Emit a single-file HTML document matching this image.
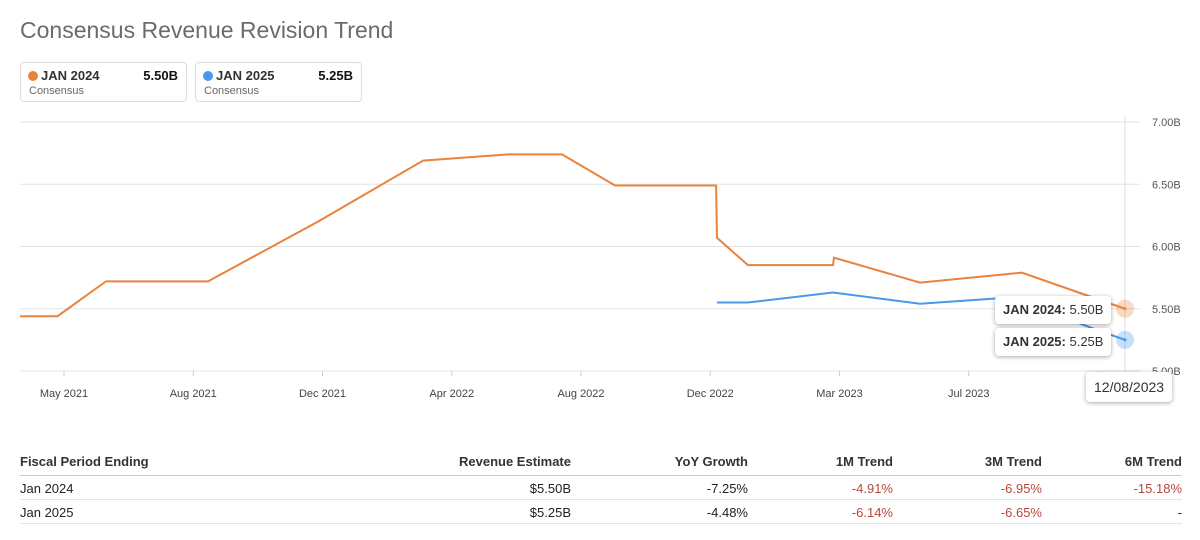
<!DOCTYPE html>
<html><head><meta charset="utf-8"><style>
body{margin:0;width:1200px;height:540px;background:#fff;font-family:"Liberation Sans",sans-serif;overflow:hidden;position:relative}
.t{position:absolute;left:20px;top:17px;font-size:23px;color:#6b6b6b}
.lg{position:absolute;top:62px;height:40px;border:1px solid #ddd;border-radius:4px;box-sizing:border-box}
.lg .d{position:absolute;left:7px;top:8px;width:10px;height:10px;border-radius:50%}
.lg .n{position:absolute;left:20px;top:5px;font-size:13px;font-weight:bold;color:#333}
.lg .v{position:absolute;right:8px;top:5px;font-size:13px;font-weight:bold;color:#111}
.lg .c{position:absolute;left:8px;top:22px;font-size:11px;color:#666}
table{position:absolute;left:20px;top:453px;width:1162px;border-collapse:collapse;font-size:13px;color:#222;table-layout:fixed}
th{font-weight:bold;text-align:right;padding:0 0 6px;height:16px;border-bottom:1px solid #ccc;color:#333}
td{text-align:right;padding:4px 0 3px;height:16px;border-bottom:1px solid #e6e6e6}
th:first-child,td:first-child{text-align:left}
.r{color:#b5473a}
.tip{position:absolute;background:#fff;border-radius:4px;box-shadow:0 1px 4px rgba(0,0,0,.35);font-size:13px;color:#333;padding:0 8px}
</style></head><body>
<div class="t">Consensus Revenue Revision Trend</div>
<div class="lg" style="left:20px;width:167px"><span class="d" style="background:#e8843e"></span><span class="n">JAN 2024</span><span class="v">5.50B</span><span class="c">Consensus</span></div>
<div class="lg" style="left:195px;width:167px"><span class="d" style="background:#4a98ec"></span><span class="n">JAN 2025</span><span class="v">5.25B</span><span class="c">Consensus</span></div>
<svg id="ch" width="1200" height="410" style="position:absolute;left:0;top:0"></svg>
<div class="tip" style="left:995px;top:296px;height:28px;line-height:28px"><b>JAN 2024:</b> 5.50B</div>
<div class="tip" style="left:995px;top:328px;height:28px;line-height:28px"><b>JAN 2025:</b> 5.25B</div>
<div class="tip" style="left:1086px;top:372px;height:30px;line-height:30px;font-size:14px">12/08/2023</div>
<table>
<colgroup><col style="width:400px"><col style="width:151px"><col style="width:177px"><col style="width:145px"><col style="width:149px"><col style="width:140px"></colgroup>
<tr><th>Fiscal Period Ending</th><th>Revenue Estimate</th><th>YoY Growth</th><th>1M Trend</th><th>3M Trend</th><th>6M Trend</th></tr>
<tr><td>Jan 2024</td><td>$5.50B</td><td>-7.25%</td><td class="r">-4.91%</td><td class="r">-6.95%</td><td class="r">-15.18%</td></tr>
<tr><td>Jan 2025</td><td>$5.25B</td><td>-4.48%</td><td class="r">-6.14%</td><td class="r">-6.65%</td><td>-</td></tr>
</table>
<script>
const xTickLabels=["May 2021","Aug 2021","Dec 2021","Apr 2022","Aug 2022","Dec 2022","Mar 2023","Jul 2023","N"];
const yTicks=[5.0,5.5,6.0,6.5,7.0];
const jan24X=[-0.34,-0.05,0.325,1.114,1.965,2.778,3.435,3.853,4.263,5.045,5.052,5.292,5.95,5.957,6.623,7.412,8.209];
const jan24Y=[5.44,5.44,5.72,5.72,6.20,6.69,6.74,6.74,6.49,6.49,6.07,5.85,5.85,5.91,5.71,5.79,5.50];
const jan25X=[5.052,5.292,5.95,6.623,7.319,7.94,8.209];
const jan25Y=[5.55,5.55,5.63,5.54,5.59,5.35,5.25];
const svg=document.getElementById('ch'),NS='http://www.w3.org/2000/svg';
const x=u=>64+u*129.25, y=v=>371-(v-5)*124.5;
function mk(t,a){const e=document.createElementNS(NS,t);for(const k in a)e.setAttribute(k,a[k]);svg.appendChild(e);return e;}
yTicks.forEach(v=>{const l=mk('line',{x1:20,x2:1140,y1:y(v),y2:y(v),stroke:'#e3e3e3'});


const t=mk('text',{x:1152,y:y(v)+4,'font-size':11,fill:'#555'});t.textContent=v.toFixed(2)+'B';

});
mk('line',{x1:1125,x2:1125,y1:116,y2:371,stroke:'#ddd'});
xTickLabels.forEach((s,i)=>{mk('line',{x1:x(i),x2:x(i),y1:371,y2:376,stroke:'#ccc'});
const t=mk('text',{x:x(i),y:397,'font-size':11,fill:'#444','text-anchor':i==8?'start':'middle'});
if(i==8)t.setAttribute('x',x(i)-11);t.textContent=s;

});
function line(X,Y,c,n){const p=mk('polyline',{points:X.map((u,i)=>x(u)+','+y(Y[i])).join(' '),fill:'none',stroke:c,'stroke-width':2});


const L=X.length-1;mk('circle',{cx:x(X[L]),cy:y(Y[L]),r:9,fill:c,opacity:0.3});mk('circle',{cx:x(X[L]),cy:y(Y[L]),r:1.5,fill:c});}
line(jan24X,jan24Y,'#e8843e','line-jan-2024');
line(jan25X,jan25Y,'#4a98ec','line-jan-2025');
</script>
</body></html>
